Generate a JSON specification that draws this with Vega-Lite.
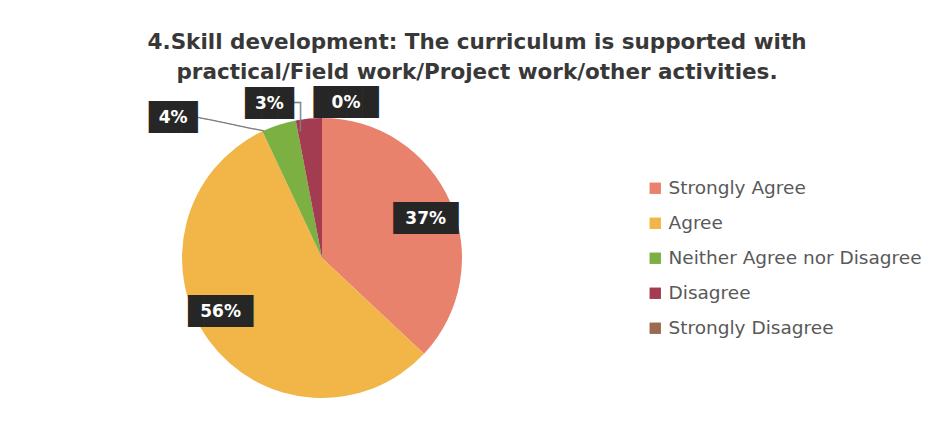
{
  "$schema": "https://vega.github.io/schema/vega-lite/v6.json",
  "width": 280,
  "height": 280,
  "autosize": {"type": "none"},
  "padding": {"left": 182, "top": 118, "right": 481, "bottom": 30},
  "background": "white",
  "title": {
    "text": ["4.Skill development: The curriculum is supported with", "practical/Field work/Project work/other activities."],
    "font": "DejaVu Sans",
    "fontSize": 21.5,
    "fontWeight": "bold",
    "color": "#383838",
    "anchor": "middle",
    "dx": 155,
    "offset": 6,
    "lineHeight": 30
  },
  "config": {"view": {"stroke": null}},
  "data": {
    "values": [
      {"category": "Strongly Agree", "value": 0.37, "rank": 1},
      {"category": "Agree", "value": 0.56, "rank": 2},
      {"category": "Neither Agree nor Disagree", "value": 0.04, "rank": 3},
      {"category": "Disagree", "value": 0.03, "rank": 4},
      {"category": "Strongly Disagree", "value": 0.0, "rank": 5}
    ]
  },
  "encoding": {
    "theta": {"field": "value", "type": "quantitative", "stack": true},
    "order": {"field": "rank", "type": "quantitative"}
  },
  "layer": [
    {
      "mark": {"type": "arc"},
      "encoding": {
        "color": {
          "field": "category",
          "type": "nominal",
          "scale": {
            "domain": ["Strongly Agree", "Agree", "Neither Agree nor Disagree", "Disagree", "Strongly Disagree"],
            "range": ["#E8826C", "#F1B548", "#7DB043", "#A33C50", "#9C6A4E"]
          },
          "legend": {
            "orient": "none",
            "legendX": 464,
            "legendY": 61,
            "title": null,
            "padding": 0,
            "labelFont": "DejaVu Sans",
            "labelFontSize": 18.5,
            "labelColor": "#595959",
            "labelOffset": 4,
            "labelLimit": 400,
            "symbolType": "square",
            "symbolSize": 130,
            "symbolStrokeWidth": 0,
            "rowPadding": 16
          }
        }
      }
    },
    {
      "mark": {"type": "text", "font": "DejaVu Sans Mono", "fontSize": 16, "color": "#808080", "radius": 155, "baseline": "middle", "align": "center", "angle": 11.7, "dx": -39.7, "dy": 22.5},
      "encoding": {"text": {"condition": {"test": "datum.category === 'Neither Agree nor Disagree'", "value": "───────"}, "value": ""}}
    },
    {
      "mark": {"type": "text", "font": "DejaVu Sans Mono", "fontSize": 16, "color": "#808080", "radius": 155, "baseline": "middle", "align": "center", "angle": 90, "dx": 13.3, "dy": 7.4},
      "encoding": {"text": {"condition": {"test": "datum.category === 'Disagree'", "value": "───"}, "value": ""}}
    },
    {
      "mark": {"type": "text", "font": "DejaVu Sans Mono", "fontSize": 16, "color": "#808080", "radius": 155, "baseline": "middle", "align": "center", "dx": -11.4, "dy": -0.7},
      "encoding": {"text": {"condition": {"test": "datum.category === 'Disagree'", "value": "─"}, "value": ""}}
    },
    {
      "mark": {"type": "text", "font": "DejaVu Sans Mono", "fontSize": 27, "color": "#262626", "radius": 113, "baseline": "middle", "dy": 6},
      "encoding": {"text": {"condition": {"test": "datum.category === 'Strongly Agree'", "value": "████"}, "value": ""}}
    },
    {
      "mark": {"type": "text", "font": "DejaVu Sans", "fontWeight": "bold", "fontSize": 17, "color": "white", "radius": 113, "baseline": "middle", "dy": 6},
      "encoding": {"text": {"condition": {"test": "datum.category === 'Strongly Agree'", "field": "value", "type": "quantitative", "format": ".0%"}, "value": ""}}
    },
    {
      "mark": {"type": "text", "font": "DejaVu Sans Mono", "fontSize": 27, "color": "#262626", "radius": 113, "baseline": "middle", "dx": -10, "dy": -12},
      "encoding": {"text": {"condition": {"test": "datum.category === 'Agree'", "value": "████"}, "value": ""}}
    },
    {
      "mark": {"type": "text", "font": "DejaVu Sans", "fontWeight": "bold", "fontSize": 17, "color": "white", "radius": 113, "baseline": "middle", "dx": -10, "dy": -12},
      "encoding": {"text": {"condition": {"test": "datum.category === 'Agree'", "field": "value", "type": "quantitative", "format": ".0%"}, "value": ""}}
    },
    {
      "mark": {"type": "text", "font": "DejaVu Sans Mono", "fontSize": 27, "color": "#262626", "radius": 155, "baseline": "middle", "dx": -101, "dy": 7},
      "encoding": {"text": {"condition": {"test": "datum.category === 'Neither Agree nor Disagree'", "value": "███"}, "value": ""}}
    },
    {
      "mark": {"type": "text", "font": "DejaVu Sans", "fontWeight": "bold", "fontSize": 17, "color": "white", "radius": 155, "baseline": "middle", "dx": -101, "dy": 7},
      "encoding": {"text": {"condition": {"test": "datum.category === 'Neither Agree nor Disagree'", "field": "value", "type": "quantitative", "format": ".0%"}, "value": ""}}
    },
    {
      "mark": {"type": "text", "font": "DejaVu Sans Mono", "fontSize": 27, "color": "#262626", "radius": 155, "baseline": "middle", "dx": -38, "dy": 0},
      "encoding": {"text": {"condition": {"test": "datum.category === 'Disagree'", "value": "███"}, "value": ""}}
    },
    {
      "mark": {"type": "text", "font": "DejaVu Sans", "fontWeight": "bold", "fontSize": 17, "color": "white", "radius": 155, "baseline": "middle", "dx": -38, "dy": 0},
      "encoding": {"text": {"condition": {"test": "datum.category === 'Disagree'", "field": "value", "type": "quantitative", "format": ".0%"}, "value": ""}}
    },
    {
      "mark": {"type": "text", "font": "DejaVu Sans Mono", "fontSize": 27, "color": "#262626", "radius": 155, "baseline": "middle", "dx": 24, "dy": 0},
      "encoding": {"text": {"condition": {"test": "datum.category === 'Strongly Disagree'", "value": "████"}, "value": ""}}
    },
    {
      "mark": {"type": "text", "font": "DejaVu Sans", "fontWeight": "bold", "fontSize": 17, "color": "white", "radius": 155, "baseline": "middle", "dx": 24, "dy": 0},
      "encoding": {"text": {"condition": {"test": "datum.category === 'Strongly Disagree'", "field": "value", "type": "quantitative", "format": ".0%"}, "value": ""}}
    }
  ]
}
